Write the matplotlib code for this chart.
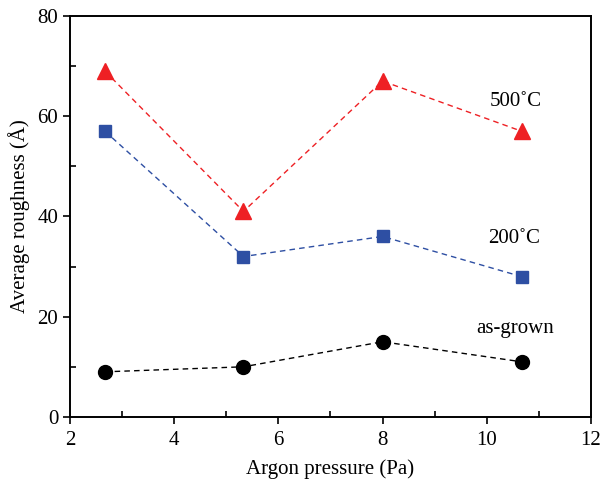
import matplotlib.pyplot as plt
from matplotlib.ticker import MultipleLocator

plt.rcParams['font.family'] = ['Liberation Serif', 'DejaVu Serif']

# data
pressure = [2.67, 5.33, 8.0, 10.67]
r500 = [69, 41, 67, 57]
r200 = [57, 32, 36, 28]
as_grown = [9, 10, 15, 11]

fig = plt.figure(figsize=(6, 4.82), dpi=100)
ax = fig.add_axes([0.1167, 0.135, 0.868, 0.832])

ax.plot(pressure, r500, '--', color='#ee2024', lw=1.0, marker='^', ms=12,
        dashes=(4, 3))
ax.plot(pressure, r200, '--', color='#2e4fa3', lw=1.0, marker='s', ms=8.5,
        dashes=(4, 3))
ax.plot(pressure, as_grown, '--', color='black', lw=1.0, marker='o', ms=10,
        dashes=(4, 3))

ax.text(10.55, 63, '500˚C', fontsize=15, ha='center', va='center')
ax.text(10.53, 35.5, '200˚C', fontsize=15, ha='center', va='center')
ax.text(10.55, 17.6, 'as-grown', fontsize=15, ha='center', va='center')

ax.set_xlim(2, 12)
ax.set_ylim(0, 80)
ax.xaxis.set_major_locator(MultipleLocator(2))
ax.xaxis.set_minor_locator(MultipleLocator(1))
ax.yaxis.set_major_locator(MultipleLocator(20))
ax.yaxis.set_minor_locator(MultipleLocator(10))
ax.tick_params(which='major', direction='out', length=5, width=1.2,
               labelsize=15)
ax.tick_params(axis='x', which='major', pad=5)
ax.tick_params(which='minor', direction='in', length=4, width=1.2)
for s in ax.spines.values():
    s.set_linewidth(1.4)

ax.set_xlabel('Argon pressure (Pa)', fontsize=15, labelpad=7)
ax.set_ylabel('Average roughness (Å)', fontsize=15, labelpad=5)

fig.savefig('out.png', dpi=100)
